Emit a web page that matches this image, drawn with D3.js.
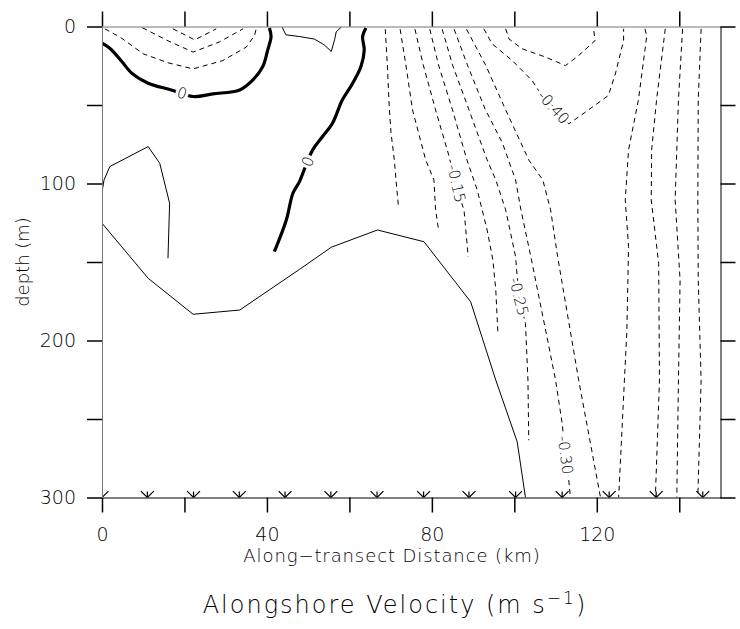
<!DOCTYPE html>
<html>
<head>
<meta charset="utf-8">
<script src="https://cdn.jsdelivr.net/npm/d3@7"></script>
<style>
  body { margin: 0; background: #fff; }
  text { font-family: "DejaVu Sans", sans-serif; font-weight: 200; fill: #000; }
</style>
</head>
<body>
<div id="chart"></div>
<script>
// axis ticks
const xTicks = [0, 20, 40, 60, 80, 100, 120, 140];
const xLabels = [0, 40, 80, 120];
const yTicks = [0, 50, 100, 150, 200, 250, 300];
const yLabels = [0, 100, 200, 300];

// CTD stations (km along transect), drawn at 300 m
const stations = [0, 11, 22.2, 33.3, 44.4, 55.5, 66.7, 78, 89, 100.3, 111.6, 123, 134.4, 145.7];

// contour lines as [km, depth] pairs
// zero contour (thick)
const zeroWest = [[0,10.6],[1.9,13.8],[4.8,22.3],[7.2,29.7],[11.2,36.1],[16.8,40.4],[22.1,44.6],[26.9,42.9],[33.4,40.4],[36.6,34.0],[39.0,25.5],[40.2,14.9],[41.0,6.4],[40.6,1.0]];
const zeroEast = [[64.0,1.0],[63.2,6.4],[63.6,14.9],[62.8,25.5],[60.8,36.1],[58.3,46.7],[55.9,61.6],[53.5,70.1],[51.1,78.6],[48.7,93.5],[47.9,98.8],[46.3,106.2],[44.7,123.2],[41.8,143.4]];

// positive contours (thin solid)
const posCap = [[43.7,0.5],[44.6,5.3],[47.9,6.4],[51.5,8.0],[53.9,11.7],[55.6,15.9],[56.4,8.5],[56.8,3.4],[58.0,0.5]];
const posBump = [[0,105.4],[0.5,97.7],[1.9,89.2],[11.2,76.5],[14.0,87.1],[16.4,112.6],[16.0,147.6]];
const posDeep = [[0,125.3],[11.2,160.4],[22.1,183.3],[33.4,180.6],[47.9,154.7],[55.6,140.6],[66.8,129.6],[78.1,137.1],[89.4,175.3],[95.5,225.2],[100.7,264.6],[102.7,300]];

// negative contours (dashed), nearshore core
const negNw1 = [[17.2,1.5],[22.5,8.5],[27.7,1.5]];
const negNw2 = [[9.8,0.8],[16.0,9.1],[22.1,16.3],[28.5,9.8],[34.2,1.5]];
const negNw3 = [[0.7,1.5],[4.4,6.8],[10.0,17.4],[16.0,23.1],[22.1,27.0],[29.3,21.7],[35.0,13.1],[37.0,5.7],[37.4,1.5]];

// negative contours (dashed), offshore jet, west flank
const neg05 = [[68.7,1.7],[69.2,24.4],[69.7,53.1],[70.1,68.0],[70.9,85.0],[71.3,97.7],[71.9,114.7]];
const neg10 = [[72.3,1.7],[73.7,24.4],[75.3,53.1],[78.5,85.0],[80.5,97.7],[80.9,116.8],[81.7,130.7]];
const neg15 = [[75.9,1.7],[77.9,24.4],[80.9,53.1],[84.2,82.9],[85.8,102.0],[87.8,116.8],[88.8,146.6]];
const neg20 = [[79.5,1.7],[81.6,24.4],[85.0,53.1],[88.5,85.0],[91.0,104.1],[93.4,129.6],[94.8,148.7],[95.5,167.8],[96.0,194.4]];
const neg25 = [[82.5,1.7],[85.0,24.4],[89.0,53.1],[93.4,85.0],[95.5,97.7],[97.9,116.8],[100.3,146.6],[101.1,172.1],[102.7,189.1],[103.3,225.2],[103.5,263.5]];
const neg30 = [[85.4,1.7],[88.6,24.4],[93.0,53.1],[97.1,74.1],[100.3,97.7],[101.6,116.8],[104.0,146.6],[108.4,204.1],[110.0,225.2],[111.6,252.8],[112.4,273.0],[113.2,288.9],[113.6,300]];
const neg35 = [[88.4,1.7],[93.0,24.4],[97.9,53.1],[103.5,85.0],[106.9,97.7],[108.8,116.8],[110.5,146.6],[115.6,225.2],[120.9,300]];
const neg40 = [[92.6,1.5],[94.6,11.0],[99.5,21.7],[104.3,34.4],[105.9,40.8],[113.2,62.0],[117.2,54.6],[122.8,44.0],[124.5,30.2],[126.5,8.9],[126.5,1.5]];
const neg45 = [[97.9,1.5],[98.7,7.9],[101.9,14.2],[107.6,19.5],[112.4,24.9],[115.6,18.5],[119.6,8.9],[119.2,1.5]];

// offshore jet, east flank
const neg35e = [[131.7,1.5],[132.1,6.4],[130.1,46.7],[127.7,78.6],[126.9,110.5],[127.7,140.2],[127.3,193.3],[126.7,225.2],[125.3,300]];
const neg30e = [[136.6,1.5],[134.5,46.7],[133.3,78.6],[133.2,110.5],[135.0,150.8],[135.2,225.2],[134.2,300]];
const neg25e = [[140.8,1.5],[139.8,46.7],[139.0,110.5],[140.2,161.5],[139.8,225.2],[139.4,300]];
const neg20e = [[145.3,1.5],[144.6,46.7],[144.5,110.5],[144.6,161.5],[145.3,225.2],[144.5,300]];

// contour labels: text, km, depth, line it sits on
const contourLabels = [
  ["0", 19.4, 42.5, zeroWest],
  ["0", 49.9, 86.0, zeroEast],
  ["-0.15", 86.0, 100.0, neg15],
  ["-0.25", 101.1, 172.1, neg25],
  ["-0.30", 112.4, 273.0, neg30],
  ["-0.40", 109.5, 51.4, neg40]
];

const thickLines = [zeroWest, zeroEast];
const solidLines = [posCap, posBump, posDeep];
const dashedLines = [negNw1, negNw2, negNw3, neg05, neg10, neg15, neg20, neg25, neg30, neg35, neg40, neg45, neg35e, neg30e, neg25e, neg20e];

const W = 740, H = 629;
const margin = { top: 26.5, right: 19.5, bottom: 131.5, left: 102 };
const pw = W - margin.left - margin.right;
const ph = H - margin.top - margin.bottom;

const svg = d3.select("#chart").append("svg")
  .attr("width", W)
  .attr("height", H);

const g = svg.append("g")
  .attr("transform", `translate(${margin.left},${margin.top})`);

const x = d3.scaleLinear().domain([0, 150]).range([0, pw]);
const y = d3.scaleLinear().domain([0, 300]).range([0, ph]);

svg.append("defs").append("clipPath").attr("id", "plotclip")
  .append("rect").attr("x", 0).attr("y", 0).attr("width", pw).attr("height", ph);

const plot = g.append("g").attr("clip-path", "url(#plotclip)");

const lineLin = d3.line().x(d => x(d[0])).y(d => y(d[1]));
const lineSmooth = d3.line().x(d => x(d[0])).y(d => y(d[1])).curve(d3.curveCatmullRom.alpha(0.5));

plot.selectAll("path.dashed")
  .data(dashedLines)
  .enter().append("path")
  .attr("class", "dashed")
  .attr("d", lineLin)
  .attr("fill", "none")
  .attr("stroke", "#000")
  .attr("stroke-width", 1)
  .attr("stroke-dasharray", "5 4");

plot.selectAll("path.solid")
  .data(solidLines)
  .enter().append("path")
  .attr("class", "solid")
  .attr("d", lineLin)
  .attr("fill", "none")
  .attr("stroke", "#000")
  .attr("stroke-width", 1);

plot.selectAll("path.thick")
  .data(thickLines)
  .enter().append("path")
  .attr("class", "thick")
  .attr("d", lineSmooth)
  .attr("fill", "none")
  .attr("stroke", "#000")
  .attr("stroke-width", 3.2);

// label angle from the nearest segment of its line
function labelAngle(d) {
  const pts = d[3];
  let best = 0, bestDist = Infinity;
  for (let i = 0; i < pts.length - 1; i++) {
    const mx = (pts[i][0] + pts[i + 1][0]) / 2, my = (pts[i][1] + pts[i + 1][1]) / 2;
    const dist = Math.hypot(x(mx) - x(d[1]), y(my) - y(d[2]));
    if (dist < bestDist) { bestDist = dist; best = i; }
  }
  const a = pts[best], b = pts[best + 1];
  let ang = Math.atan2(y(b[1]) - y(a[1]), x(b[0]) - x(a[0])) * 180 / Math.PI;
  if (ang > 90) ang -= 180;
  if (ang < -90) ang += 180;
  return ang;
}

plot.selectAll("text.clabel")
  .data(contourLabels)
  .enter().append("text")
  .attr("class", "clabel")
  .attr("transform", d => `translate(${x(d[1])},${y(d[2])}) rotate(${labelAngle(d)})`)
  .attr("text-anchor", "middle")
  .attr("dy", "0.35em")
  .style("font-size", "15px")
  .style("paint-order", "stroke")
  .style("stroke", "#fff")
  .style("stroke-width", "6px")
  .text(d => d[0]);

// station markers: an X plus a vertical stroke, lower half hidden by the clip
const stationMarks = plot.selectAll("g.station")
  .data(stations)
  .enter().append("g")
  .attr("class", "station")
  .attr("transform", d => `translate(${x(d)},${y(300)})`);
stationMarks.append("path")
  .attr("d", d3.symbol(d3.symbolTimes, 110))
  .attr("fill", "none")
  .attr("stroke", "#000")
  .attr("stroke-width", 1.2);
stationMarks.append("line")
  .attr("x1", 0).attr("x2", 0).attr("y1", -6).attr("y2", 0)
  .attr("stroke", "#000")
  .attr("stroke-width", 1.2);

// axes
function styleAxis(sel, domainColor) {
  sel.select(".domain").attr("stroke", domainColor).attr("stroke-width", 1);
  sel.selectAll(".tick line").attr("stroke", "#000").attr("stroke-width", 1.5);
}

const xBottom = g.append("g")
  .attr("transform", `translate(0,${ph})`)
  .call(d3.axisBottom(x).tickValues(xTicks).tickSize(15).tickSizeOuter(0)
    .tickFormat(d => xLabels.includes(d) ? d : ""));
styleAxis(xBottom, "#000");
xBottom.selectAll(".tick text")
  .attr("y", 43).attr("dy", 0)
  .style("font-size", "19px")
  .style("font-family", "DejaVu Sans, sans-serif")
  .style("font-weight", 200);

const xTop = g.append("g")
  .call(d3.axisTop(x).tickValues(xTicks).tickSize(15).tickSizeOuter(0).tickFormat(""));
styleAxis(xTop, "#777");

const yLeft = g.append("g")
  .call(d3.axisLeft(y).tickValues(yTicks).tickSize(15).tickSizeOuter(0).tickPadding(11)
    .tickFormat(d => yLabels.includes(d) ? d : ""));
styleAxis(yLeft, "#777");
yLeft.selectAll(".tick text")
  .style("font-size", "19px")
  .style("font-family", "DejaVu Sans, sans-serif")
  .style("font-weight", 200);

const yRight = g.append("g")
  .attr("transform", `translate(${pw},0)`)
  .call(d3.axisRight(y).tickValues(yTicks).tickSize(15).tickSizeOuter(0).tickFormat(""));
styleAxis(yRight, "#000");

// titles
svg.append("text")
  .attr("x", 392)
  .attr("y", 562)
  .attr("text-anchor", "middle")
  .style("font-size", "18px")
  .style("letter-spacing", "0.9px")
  .text("Along\u2212transect Distance (km)");

svg.append("text")
  .attr("transform", "translate(29,262) rotate(-90)")
  .attr("text-anchor", "middle")
  .style("font-size", "18px")
  .text("depth (m)");

const title = svg.append("text")
  .attr("x", 395)
  .attr("y", 613)
  .attr("text-anchor", "middle")
  .style("font-size", "24px")
  .style("letter-spacing", "2px");
title.append("tspan").text("Alongshore Velocity (m s");
title.append("tspan").attr("dy", -9).style("font-size", "17px").text("\u22121");
title.append("tspan").attr("dy", 9).text(")");
</script>
</body>
</html>
